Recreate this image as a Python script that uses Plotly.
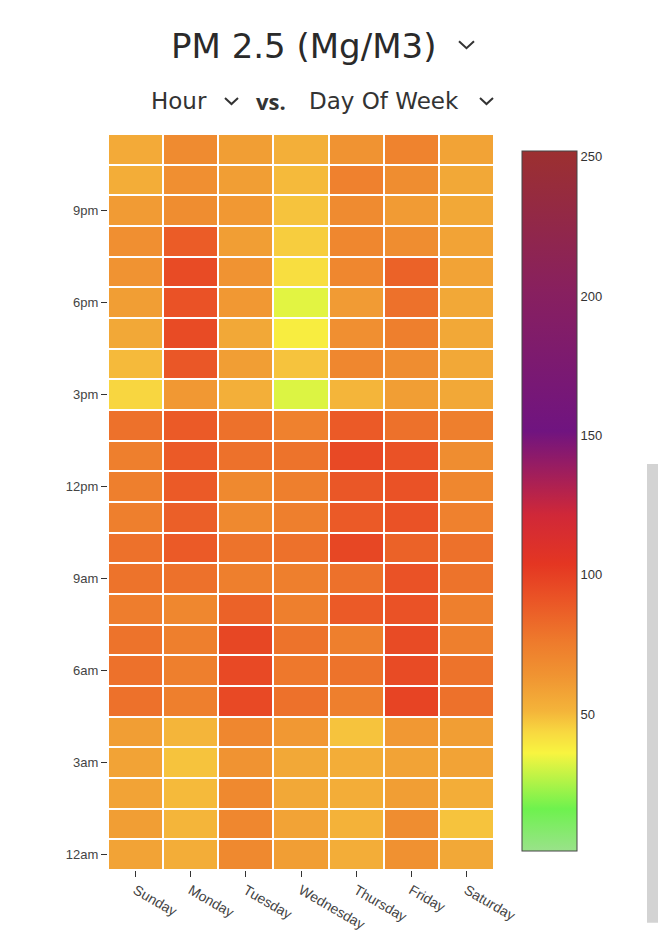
import plotly.graph_objects as go

days = ["Sunday", "Monday", "Tuesday", "Wednesday", "Thursday", "Friday", "Saturday"]
hours = list(range(24))
hour_tick_vals = [0, 3, 6, 9, 12, 15, 18, 21]
hour_tick_text = ["12am", "3am", "6am", "9am", "12pm", "3pm", "6pm", "9pm"]

# PM2.5 values, one row per hour (12am first), columns Sunday..Saturday
h00 = [58, 54, 69, 60, 54, 65, 56]
h01 = [60, 51, 70, 58, 52, 67, 48]
h02 = [58, 50, 69, 56, 54, 60, 54]
h03 = [58, 48, 64, 56, 54, 58, 58]
h04 = [60, 51, 70, 62, 48, 62, 60]
h05 = [80, 74, 96, 80, 74, 98, 80]
h06 = [80, 74, 96, 77, 79, 95, 79]
h07 = [79, 74, 97, 79, 74, 95, 74]
h08 = [75, 70, 86, 74, 89, 92, 74]
h09 = [79, 80, 74, 74, 80, 92, 79]
h10 = [80, 89, 79, 80, 97, 86, 80]
h11 = [74, 87, 69, 74, 89, 92, 73]
h12 = [74, 89, 69, 74, 90, 92, 70]
h13 = [74, 89, 80, 79, 96, 92, 67]
h14 = [80, 89, 80, 73, 89, 80, 74]
h15 = [44, 62, 53, 32, 51, 60, 56]
h16 = [50, 90, 60, 48, 70, 67, 56]
h17 = [56, 95, 56, 38, 66, 74, 56]
h18 = [60, 92, 62, 33, 61, 80, 56]
h19 = [64, 95, 64, 42, 70, 86, 58]
h20 = [66, 88, 60, 46, 70, 67, 58]
h21 = [61, 67, 62, 48, 68, 61, 56]
h22 = [54, 66, 60, 50, 73, 67, 56]
h23 = [55, 68, 60, 53, 64, 72, 58]

z = [h00, h01, h02, h03, h04, h05, h06, h07, h08, h09, h10, h11,
     h12, h13, h14, h15, h16, h17, h18, h19, h20, h21, h22, h23]

cbar_ticks = [50, 100, 150, 200, 250]

colorscale = [
    [0.00, "#9ae28a"],
    [0.06, "#6ef24e"],
    [0.14, "#f8f440"],
    [0.17, "#f8d840"],
    [0.20, "#f4b43a"],
    [0.25, "#f09432"],
    [0.30, "#ee7a2c"],
    [0.36, "#ea5426"],
    [0.41, "#e43622"],
    [0.48, "#d02838"],
    [0.60, "#701480"],
    [0.80, "#88205f"],
    [1.00, "#9c3030"],
]

# figure geometry (page is offset by the 8px body margin)
OFF = 8
W, H = 658, 936
L, R, T, B = 100, 172, 126, 72
PW = W - L - R
PH = H - T - B


def px_x(p):
    return (p - OFF - L) / PW


def px_y(p):
    return (H - B - (p - OFF)) / PH


fig = go.Figure(go.Heatmap(
    z=z, x=list(range(7)), y=hours,
    zmin=1, zmax=252,
    colorscale=colorscale,
    xgap=2, ygap=2,
    colorbar=dict(
        thickness=55, thicknessmode="pixels",
        len=702 / PH, lenmode="fraction",
        x=px_x(522), xanchor="left", xpad=0,
        y=px_y(502), yanchor="middle", ypad=0,
        outlinecolor="#444", outlinewidth=1,
        tickvals=cbar_ticks, ticks="",
        tickfont=dict(family="Liberation Sans, Arial", size=13, color="#333"),
    ),
))

fig.update_xaxes(
    tickvals=list(range(7)), ticktext=days, tickangle=30,
    ticks="outside", ticklen=6, tickcolor="#333",
    tickfont=dict(family="Liberation Sans, Arial", size=14, color="#444"),
    showgrid=False, zeroline=False, range=[-0.5, 6.5],
)
fig.update_yaxes(
    tickvals=hour_tick_vals, ticktext=hour_tick_text,
    ticks="outside", ticklen=6, tickcolor="#333",
    tickfont=dict(family="Liberation Sans, Arial", size=13, color="#444"),
    showgrid=False, zeroline=False, range=[-0.5, 23.5],
)

title_font = dict(family="DejaVu Sans", size=34, color="#2a2a2a")
sub_font = dict(family="DejaVu Sans", size=23, color="#333")
vs_font = dict(family="Open Sans", size=22, color="#333")

annotations = [
    dict(text="PM 2.5 (Mg/M3)", x=px_x(169), y=px_y(46), xanchor="left",
         yanchor="middle", font=title_font),
    dict(text="Hour", x=px_x(149), y=px_y(101), xanchor="left",
         yanchor="middle", font=sub_font),
    dict(text="<b>vs.</b>", x=px_x(254), y=px_y(101), xanchor="left",
         yanchor="middle", font=vs_font),
    dict(text="Day Of Week", x=px_x(307), y=px_y(101), xanchor="left",
         yanchor="middle", font=sub_font),
]
for a in annotations:
    a.update(xref="paper", yref="paper", showarrow=False)


def chevron(x0, x1, y0, y1):
    xm = (x0 + x1) / 2
    return dict(type="path", xref="paper", yref="paper",
                path=f"M {px_x(x0)} {px_y(y0)} L {px_x(xm)} {px_y(y1)} L {px_x(x1)} {px_y(y0)}",
                line=dict(color="#333", width=2))


shapes = [
    chevron(459, 474, 41, 48),
    chevron(225, 238, 98, 104),
    chevron(480, 493, 98, 104),
    dict(type="rect", xref="paper", yref="paper",
         x0=px_x(647), x1=px_x(659), y0=px_y(925), y1=px_y(465),
         line=dict(width=0), fillcolor="#d3d3d3"),
]

fig.update_layout(
    width=W, height=H,
    margin=dict(l=L, r=R, t=T, b=B),
    paper_bgcolor="white", plot_bgcolor="white",
    annotations=annotations,
    shapes=shapes,
)

fig.write_html("out.html")
